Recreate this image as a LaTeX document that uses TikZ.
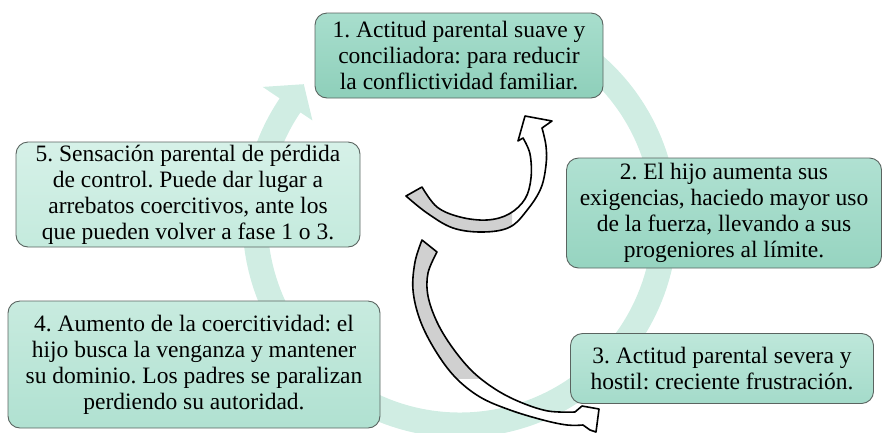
\documentclass[tikz,border=0pt]{standalone}
\usepackage{fontspec}
\setmainfont{Liberation Serif}
\usetikzlibrary{calc}
\frenchspacing

\definecolor{ringcol}{RGB}{208,237,227}
\definecolor{edgegray}{RGB}{90,100,96}
\definecolor{curvegray}{RGB}{208,208,208}
\definecolor{faseAtop}{RGB}{168,222,205}
\definecolor{faseAbot}{RGB}{142,207,186}
\definecolor{faseBtop}{RGB}{176,225,210}
\definecolor{faseBbot}{RGB}{150,212,192}
\definecolor{faseCtop}{RGB}{190,231,218}
\definecolor{faseCbot}{RGB}{164,219,202}
\definecolor{faseDtop}{RGB}{200,235,223}
\definecolor{faseDbot}{RGB}{176,225,209}
\definecolor{faseEtop}{RGB}{214,241,232}
\definecolor{faseEbot}{RGB}{196,234,221}

% outlines of the two twisted arrows
\newcommand{\curvaArriba}{plot[smooth, tension=0.6] coordinates {(406,196) (427,213) (453,228) (483,232) (510,227) (528,209) (541,188) (546,165) (546,146) (542,128)} -- (552,121) -- (525,116) -- (518,141) -- plot[smooth, tension=0.6] coordinates {(523,138) (530,154) (531,178) (525,199) (509,214) (487,220) (460,217) (437,207) (422,187)} -- cycle}
\newcommand{\curvaAbajo}{plot[smooth, tension=0.6] coordinates {(422,240) (415,262) (413,290) (420,320) (435,350) (455,377) (480,397) (510,410) (543,420) (567,425) (583,425)} -- (590,430) -- (596,432) -- (599,409) -- (582,406) -- plot[smooth, tension=0.6] coordinates {(575,412) (548,411) (520,402) (495,389) (472,371) (452,347) (437,322) (428,296) (428,273) (437,252)} -- cycle}

\begin{document}
\begin{tikzpicture}[x=1pt, y=-1pt]
	% Define styles
	\tikzstyle{phase} = [rectangle, rounded corners=12pt, draw=edgegray, line width=0.9pt, align=center, inner sep=0pt, font=\fontsize{23.5}{26}\selectfont]
	\tikzstyle{ribbon} = [line width=1.6pt, line join=round]
	\useasboundingbox (0,0) rectangle (883,432);

	% Cycle
	\coordinate (ctr) at (460,220);
	\fill[ringcol] ($(ctr)+(-70:217.5)$) arc[start angle=-70, end angle=214, radius=217.5]
		-- ($(ctr)+(214:238)$) -- ($(ctr)+(221:207)$) -- ($(ctr)+(214:178)$) -- ($(ctr)+(214:192.5)$)
		arc[start angle=214, end angle=-70, radius=192.5] -- cycle;

	% Nodes
	\node (fase1) [phase, top color=faseAtop, bottom color=faseAbot, minimum width=288pt, minimum height=85pt] at (459,55.5) {1. Actitud parental suave y\\conciliadora: para reducir\\la conflictividad familiar.};
	\node (fase2) [phase, top color=faseBtop, bottom color=faseBbot, minimum width=315pt, minimum height=110pt] at (724,213) {2. El hijo aumenta sus\\exigencias, haciedo mayor uso\\de la fuerza, llevando a sus\\progeniores al límite.};
	\node (fase3) [phase, top color=faseCtop, bottom color=faseCbot, minimum width=303pt, minimum height=70pt] at (722,368.5) {3. Actitud parental severa y\\hostil: creciente frustración.};
	\node (fase4) [phase, top color=faseDtop, bottom color=faseDbot, minimum width=372pt, minimum height=127pt] at (194,364.5) {4. Aumento de la coercitividad: el\\hijo busca la venganza y mantener\\su dominio. Los padres se paralizan\\perdiendo su autoridad.};
	\node (fase5) [phase, top color=faseEtop, bottom color=faseEbot, minimum width=344pt, minimum height=105pt] at (188,194.5) {5. Sensación parental de pérdida\\de control. Puede dar lugar a\\arrebatos coercitivos, ante los\\que pueden volver a fase 1 o 3.};

	% Arrows
	\fill[white] \curvaArriba;
	\begin{scope}
		\clip (380,160) rectangle (512,245);
		\fill[curvegray] \curvaArriba;
	\end{scope}
	\draw[ribbon] \curvaArriba;

	\fill[white] \curvaAbajo;
	\begin{scope}
		\clip (395,230) rectangle (480,378);
		\fill[curvegray] \curvaAbajo;
	\end{scope}
	\draw[ribbon] \curvaAbajo;
\end{tikzpicture}
\end{document}
